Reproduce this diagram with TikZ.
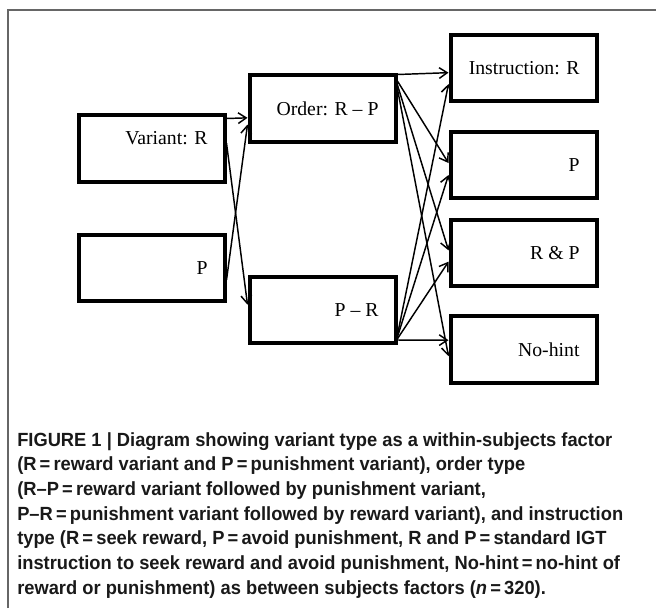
\documentclass[tikz,border=0pt]{standalone}
\usepackage{fontspec}
\setmainfont{Liberation Serif}
\newfontfamily\capfont[FakeStretch=0.96,Ligatures=TeX]{Liberation Sans}
\usetikzlibrary{arrows.meta}

\begin{document}
\begin{tikzpicture}[
  x=0.75pt, y=-0.75pt,
  factor/.style={rectangle, draw, line width=3pt, minimum width=109.5pt, minimum height=50pt,
    text width=84pt, align=flush right, font=\fontsize{14.8}{17}\selectfont},
  link/.style={->, line width=1.1pt},
  >={Straight Barb[length=6pt,width=8pt]}
]
\useasboundingbox (0,0) rectangle (656,608);
\draw[gray!80!black, line width=0.8pt] (8,608) -- (8,10) -- (656,10);

% variant type (within subjects)
\node[factor] (var_r) at (151.5,148.5) {\raisebox{16pt}{Variant: R}};
\node[factor] (var_p) at (151.5,268) {P};
% order type
\node[factor] (ord_rp) at (322.5,108.5) {Order: R -- P};
\node[factor] (ord_pr) at (322.5,310) {P -- R};
% instruction type
\node[factor] (ins_r) at (523.5,68) {Instruction: R};
\node[factor] (ins_p) at (523.5,165) {P};
\node[factor] (ins_rp) at (523.5,253) {R \& P};
\node[factor] (ins_nh) at (523.5,349.5) {No-hint};

\draw[link] ([yshift=-4pt]var_r.north east) -- ([yshift=-7pt]ord_rp.west);
\draw[link] ([yshift=4pt]var_r.east) -- ([yshift=4pt]ord_pr.west);
\draw[link] ([yshift=-9pt]var_p.east) -- ([yshift=-12pt]ord_rp.west);

\draw[link] ([yshift=-1pt]ord_rp.north east) -- ([yshift=-3.5pt]ins_r.west);
\draw[link] ([yshift=-6pt]ord_rp.north east) -- ([yshift=1.5pt]ins_p.west);
\draw[link] ([yshift=-9pt]ord_rp.north east) -- ([yshift=2pt]ins_rp.west);
\draw[link] ([yshift=-12pt]ord_rp.north east) -- ([yshift=-5pt]ins_nh.west);

\draw[link] ([yshift=8pt]ord_pr.south east) -- ([yshift=-12pt]ins_r.west);
\draw[link] ([yshift=6.5pt]ord_pr.south east) -- ([yshift=-7.5pt]ins_p.west);
\draw[link] ([yshift=5pt]ord_pr.south east) -- ([yshift=-6.5pt]ins_rp.west);
\draw[link] ([yshift=4pt]ord_pr.south east) -- ([yshift=7pt]ins_nh.west);

\node[anchor=north west, align=left, inner sep=0pt, text=black!90,
  font=\capfont\bfseries\fontsize{14.3}{18.5}\selectfont] (caption) at (17,432)
  {FIGURE 1 | Diagram showing variant type as a within-subjects factor\\
   (R\,=\,reward variant and P\,=\,punishment variant), order type\\
   (R--P\,=\,reward variant followed by punishment variant,\\
   P--R\,=\,punishment variant followed by reward variant), and instruction\\
   type (R\,=\,seek reward, P\,=\,avoid punishment, R and P\,=\,standard IGT\\
   instruction to seek reward and avoid punishment, No-hint\,=\,no-hint of\\
   reward or punishment) as between subjects factors (\textit{n}\,=\,320).};
\end{tikzpicture}
\end{document}
